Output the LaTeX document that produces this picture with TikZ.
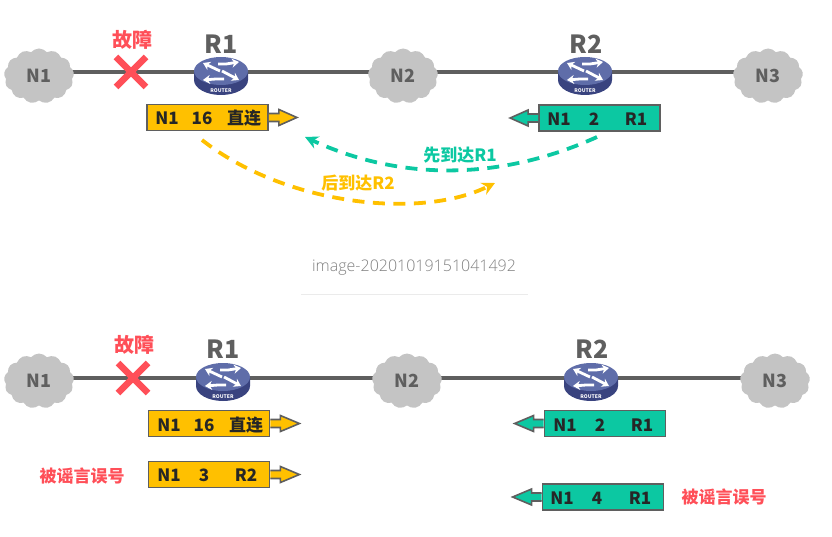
\documentclass[tikz,border=0pt]{standalone}
\usepackage{fontspec}
\setmainfont{Noto Sans CJK SC}
\newfontfamily\capfont{Open Sans Light}
\usetikzlibrary{shapes.symbols,shapes.geometric,arrows.meta,backgrounds}
\definecolor{gold}{HTML}{FFC000}
\definecolor{teal2}{HTML}{0CC8A2}
\definecolor{edge}{HTML}{5F5F5F}
\definecolor{wrong}{HTML}{FF4F58}
\definecolor{cloudgray}{HTML}{C4C4C4}
\definecolor{routertop}{HTML}{5F6DA9}
\definecolor{routerside}{HTML}{39437F}
\tikzset{
  net/.style={cloud,cloud puffs=13,cloud puff arc=100,aspect=1.3,fill=cloudgray,draw=none,inner sep=0pt,
    minimum width=70pt,minimum height=55pt,text=edge,font=\fontsize{18}{18}\selectfont\bfseries},
  routerbase/.style={ellipse,minimum width=54pt,minimum height=38pt,inner sep=0pt},
  rlabel/.style={text=edge,font=\fontsize{25}{25}\selectfont\bfseries,inner sep=0pt},
  wire/.style={draw=edge,line width=3.2pt},
  boxa/.style={rectangle,draw=edge,line width=1.8pt,fill=gold,minimum width=121pt,minimum height=26pt,inner sep=0pt},
  boxb/.style={boxa,fill=teal2},
  arrowa/.style={draw=edge,line width=1.6pt,fill=gold,line join=miter},
  arrowb/.style={arrowa,fill=teal2},
  cell/.style={font=\fontsize{17}{17}\selectfont\bfseries,text=black!85,inner sep=0pt},
  alert/.style={text=wrong,font=\fontsize{17}{17}\selectfont\bfseries,inner sep=0pt},
  bigalert/.style={alert,font=\fontsize{20}{20}\selectfont\bfseries},
  crossmark/.style={draw=wrong,line width=6.5pt},
  hop/.style={line width=3.8pt,dash pattern=on 12pt off 8.5pt},
  caption/.style={text=black!50,font=\capfont\fontsize{16}{16}\selectfont,inner sep=0pt},
}
\newcommand{\routerdraw}[1]{%
  \begin{scope}[shift={(#1.center)}]
    \fill[routerside] (-27,-1) -- (-27,8) arc[start angle=180,end angle=0,x radius=27,y radius=15] -- (27,-1) -- cycle;
    \fill[routertop] (0,-1) ellipse[x radius=27,y radius=14];
    \begin{scope}[white,line width=2.8pt,>={Stealth[length=7pt,width=9pt]}]
      \draw[->] (-1,-1) -- (-18,-9);
      \draw[->] (-3,-8) -- (5,-8) -- (18,-10);
      \draw[->] (1,-1) -- (18,8);
      \draw[->] (3,7) -- (-5,7) -- (-18,8);
    \end{scope}
    \node[text=white,font=\fontsize{5}{5}\selectfont\bfseries,inner sep=0pt] at (0,19) {ROUTER};
  \end{scope}}
\begin{document}
\begin{tikzpicture}[x=1pt,y=-1pt]
\useasboundingbox (0,0) rectangle (832,537);

% ---------- top ----------
\node[net] (n1) at (39,76) {N1};
\node[net] (n2) at (403,76) {N2};
\node[net] (n3) at (768,76) {N3};
\node[routerbase] (r1) at (221,72) {};
\node[routerbase] (r2) at (585,72) {};
\begin{scope}[on background layer]
  \draw[wire] ([yshift=4pt]n1.center) -- (r1.center) -- ([yshift=4pt]n2.center) -- (r2.center) -- ([yshift=4pt]n3.center);
\end{scope}
\routerdraw{r1}\routerdraw{r2}
\node[rlabel] (r1t) at (221,44) {R1};
\node[rlabel] (r2t) at (586,44) {R2};
\node[bigalert] (f1) at (132,40) {故障};
\draw[crossmark] (116,57) -- (146,87) (146,57) -- (116,87);

\node[boxa] (a1) at (207.5,117.5) {};
\draw[arrowa] (a1.east) ++(0,-4) -- ++(10,0) -- ++(0,-4) -- ++(18,8) -- ++(-18,8) -- ++(0,-4) -- ++(-10,0);
\node[cell] (a1x) at (167,118) {N1};
\node[cell] (a1y) at (202,118) {16};
\node[cell] (a1z) at (244,118) {直连};

\node[boxb] (b1) at (599.5,118) {};
\draw[arrowb] (b1.west) ++(0,-4) -- ++(-10,0) -- ++(0,-4) -- ++(-18,8) -- ++(18,8) -- ++(0,-4) -- ++(10,0);
\node[cell] (b1x) at (559,119) {N1};
\node[cell] (b1y) at (594,119) {2};
\node[cell] (b1z) at (636,119) {R1};

\coordinate (tealstart) at (597,137);
\coordinate (tealend) at (305,137);
\coordinate (goldstart) at (202,140);
\coordinate (goldend) at (495,183);
\draw[hop,draw=teal2,-{Stealth[length=13pt,width=13pt]}] (tealstart) .. controls (500,181) and (400,181) .. (tealend);
\draw[hop,draw=gold,-{Stealth[length=13pt,width=13pt]}] (goldstart) .. controls (285,205) and (420,220) .. (goldend);
\node[alert,text=teal2] (t1) at (460,155) {先到达R1};
\node[alert,text=gold] (t2) at (358,183) {后到达R2};

\node[caption] (cap) at (414,267.5) {image-20201019151041492};
\coordinate (rulea) at (301,294);
\coordinate (ruleb) at (528,294);
\draw[black!8,line width=.8pt] (rulea) -- (ruleb);

% ---------- bottom ----------
\node[net] (m1) at (39,381) {N1};
\node[net] (m2) at (407,381) {N2};
\node[net] (m3) at (775,381) {N3};
\node[routerbase] (s1) at (223,378) {};
\node[routerbase] (s2) at (591,378) {};
\begin{scope}[on background layer]
  \draw[wire] ([yshift=3pt]m1.center) -- (s1.center) -- ([yshift=3pt]m2.center) -- (s2.center) -- ([yshift=3pt]m3.center);
\end{scope}
\routerdraw{s1}\routerdraw{s2}
\node[rlabel] (s1t) at (223,349) {R1};
\node[rlabel] (s2t) at (592,349) {R2};
\node[bigalert] (f2) at (134,345) {故障};
\draw[crossmark] (118,363) -- (148,393) (148,363) -- (118,393);

\node[boxa] (a2) at (209,423.5) {};
\draw[arrowa] (a2.east) ++(0,-4) -- ++(10,0) -- ++(0,-4) -- ++(19,8) -- ++(-19,8) -- ++(0,-4) -- ++(-10,0);
\node[cell] (a2x) at (169,425) {N1};
\node[cell] (a2y) at (204,425) {16};
\node[cell] (a2z) at (246,425) {直连};

\node[boxa] (a3) at (209,474.5) {};
\draw[arrowa] (a3.east) ++(0,-4) -- ++(10,0) -- ++(0,-4) -- ++(19,8) -- ++(-19,8) -- ++(0,-4) -- ++(-10,0);
\node[cell] (a3x) at (169,475) {N1};
\node[cell] (a3y) at (204,475) {3};
\node[cell] (a3z) at (246,475) {R2};

\node[boxb] (b2) at (605,423.5) {};
\draw[arrowb] (b2.west) ++(0,-4) -- ++(-10,0) -- ++(0,-4) -- ++(-19,8) -- ++(19,8) -- ++(0,-4) -- ++(10,0);
\node[cell] (b2x) at (565,425) {N1};
\node[cell] (b2y) at (600,425) {2};
\node[cell] (b2z) at (642,425) {R1};

\node[boxb] (b3) at (603,497) {};
\draw[arrowb] (b3.west) ++(0,-4) -- ++(-10,0) -- ++(0,-4) -- ++(-19,8) -- ++(19,8) -- ++(0,-4) -- ++(10,0);
\node[cell] (b3x) at (562,498) {N1};
\node[cell] (b3y) at (597,498) {4};
\node[cell] (b3z) at (640,498) {R1};

\node[alert] (w1) at (82,476) {被谣言误号};
\node[alert] (w2) at (724,497) {被谣言误号};
\end{tikzpicture}
\end{document}
